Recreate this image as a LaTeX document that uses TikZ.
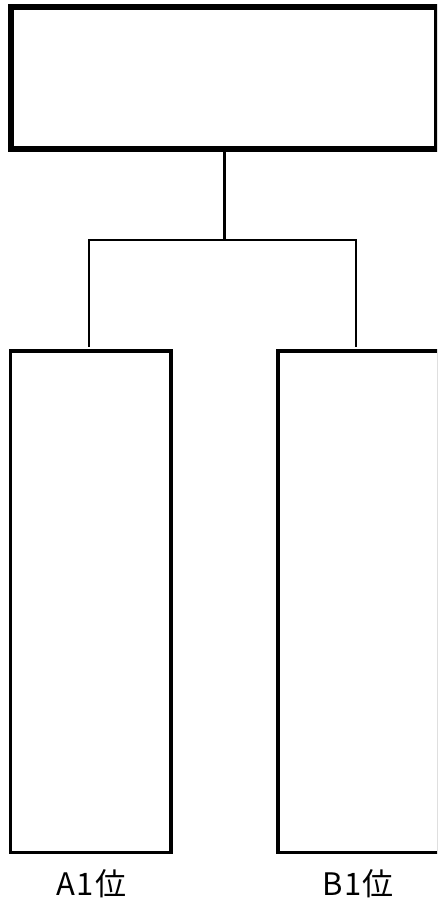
\documentclass[tikz,border=0pt]{standalone}
\usepackage{fontspec}
\newfontfamily\cjk{Noto Sans CJK JP}
\begin{document}
\begin{tikzpicture}[x=1pt,y=-1pt,
  topbox/.style={draw=black, line width=6pt, inner sep=0pt, outer sep=0pt, minimum width=426pt, minimum height=142pt},
  sidebox/.style={draw=black, line width=3.5pt, inner sep=0pt, outer sep=0pt, minimum width=160.5pt, minimum height=501.5pt},
  stem/.style={line width=3pt},
  branch/.style={line width=2pt},
  lbl/.style={font=\cjk\fontsize{31}{34}\selectfont, inner sep=0pt}]
\useasboundingbox (0,0) rectangle (437,905);
\begin{scope}
\clip (0,0) rectangle (437,905);
\node[topbox] (top) at (224,78) {};
\node[sidebox] (left) at (90.75,601.75) {};
\node[sidebox] (right) at (358.25,601.75) {};
\coordinate (j) at (224,240);
\coordinate (jl) at (89,240);
\coordinate (jr) at (356,240);
\coordinate (dl) at (89,346.5);
\coordinate (dr) at (356,346.5);
\draw[stem] (top.south) -- (j);
\draw[branch] (dl) -- (jl) -- (jr) -- (dr);
\node[lbl] (la) at (91.5,884) {\addfontfeature{LetterSpace=4}A1位};
\node[lbl] (lb) at (358,884) {\addfontfeature{LetterSpace=4}B1位};
\end{scope}
\end{tikzpicture}
\end{document}
